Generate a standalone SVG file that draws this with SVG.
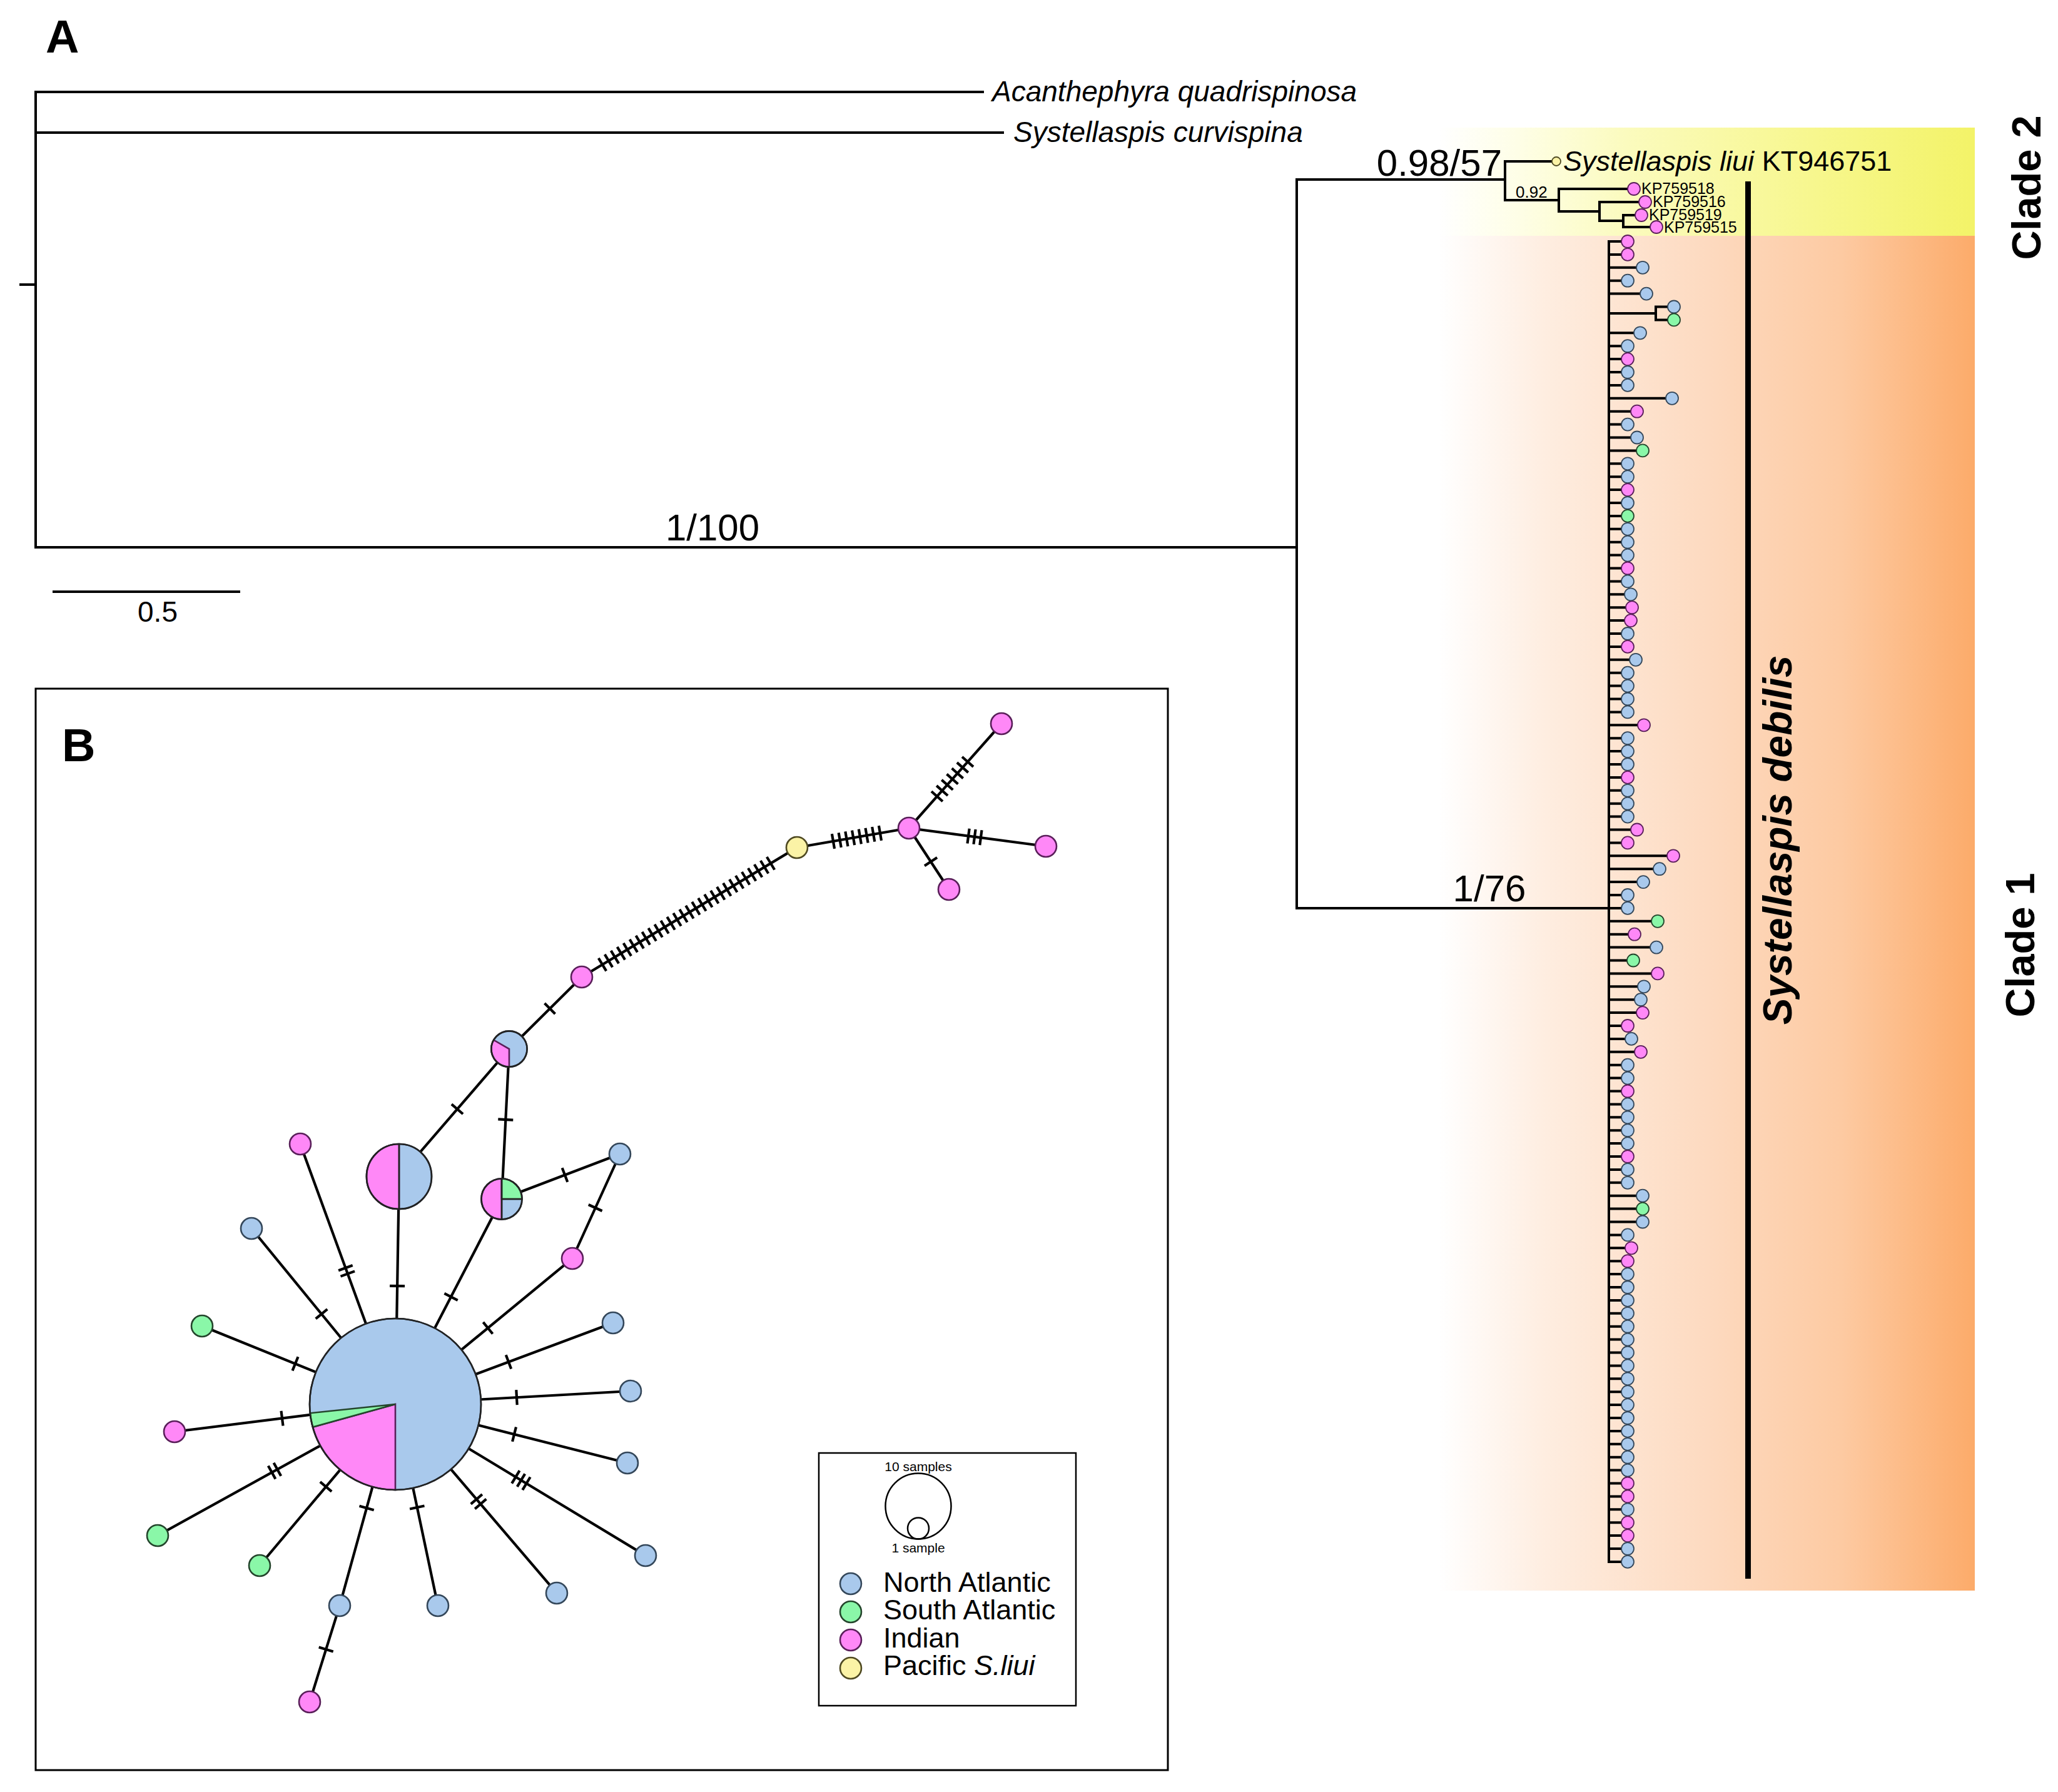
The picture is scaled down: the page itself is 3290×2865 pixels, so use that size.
<svg xmlns="http://www.w3.org/2000/svg" width="3290" height="2865" viewBox="0 0 3290 2865">
<defs>
<style>
text{font-family:"Liberation Sans",Arial,sans-serif;fill:#000}
.tree{stroke:#000;stroke-width:4;fill:none}
.edge{stroke:#000;stroke-width:4.2;fill:none}
.nb{fill:#A9C9EC;stroke:#34475a}
.np{fill:#FF88F7;stroke:#5a1f5a}
.ng{fill:#8AF7A8;stroke:#24452c}
.ny{fill:#FBF3A6;stroke:#4f4a22}
.tip circle{stroke-width:1.8}
.net circle,.net path{stroke-width:2.6}
.div{stroke:#222;stroke-width:2.6;fill:none}
.ol{fill:none;stroke:#222;stroke-width:2.6}
</style>
<linearGradient id="gy" gradientUnits="userSpaceOnUse" x1="2300" y1="0" x2="3157" y2="0">
<stop offset="0" stop-color="#FFFFFF"/>
<stop offset="0.15" stop-color="#FEFEE6"/>
<stop offset="0.35" stop-color="#FBFBBE"/>
<stop offset="0.7" stop-color="#F7F78E"/>
<stop offset="1" stop-color="#F3F368"/>
</linearGradient>
<linearGradient id="go" gradientUnits="userSpaceOnUse" x1="2300" y1="0" x2="3157" y2="0">
<stop offset="0" stop-color="#FFFFFF"/>
<stop offset="0.2" stop-color="#FEEDE0"/>
<stop offset="0.5" stop-color="#FDDAC0"/>
<stop offset="0.75" stop-color="#FDCAA2"/>
<stop offset="1" stop-color="#FCAB6A"/>
</linearGradient>
</defs>
<rect width="3290" height="2865" fill="#fff"/>

<!-- Panel A backgrounds -->
<g id="clade-bands">
<rect x="2300" y="204" width="857" height="173" fill="url(#gy)"/>
<rect x="2300" y="377" width="857" height="2166" fill="url(#go)"/>
</g>

<text x="73" y="84" font-size="74" font-weight="bold">A</text>

<!-- Tree connectors -->
<g id="tree-connectors" class="tree">
<path d="M31 455H57M57 145V877M57 147H1573M57 212H1605M57 875H2073M2073 285V1454M2073 287H2406M2073 1452H2572"/>
<path d="M2406 256V322M2406 258H2481M2406 320H2492M2492 300V340M2492 302H2602M2492 338H2557M2557 321V355M2557 323H2620M2557 353H2595M2595 342V365M2595 344H2614M2595 363H2638"/>
<path d="M2572 384V2499M2572 386H2592M2572 406.9H2592M2572 427.8H2616M2572 448.7H2592M2572 469.6H2622M2572 501H2647M2647 488.5V513.4M2647 490.5H2666M2647 511.4H2666M2572 532.3H2612M2572 553.2H2592M2572 574.1H2592M2572 595H2592M2572 615.9H2592M2572 636.8H2663M2572 657.7H2607M2572 678.6H2592M2572 699.5H2607M2572 720.4H2616M2572 741.3H2592M2572 762.2H2592M2572 783.1H2592M2572 804H2592M2572 824.9H2592M2572 845.8H2592M2572 866.7H2592M2572 887.6H2592M2572 908.5H2592M2572 929.4H2592M2572 950.3H2597M2572 971.2H2599M2572 992.1H2597M2572 1013H2592M2572 1033.9H2592M2572 1054.8H2605M2572 1075.7H2592M2572 1096.6H2592M2572 1117.5H2592M2572 1138.4H2592M2572 1159.3H2618M2572 1180.2H2592M2572 1201.1H2592M2572 1222H2592M2572 1242.9H2592M2572 1263.8H2592M2572 1284.7H2592M2572 1305.6H2592M2572 1326.5H2607M2572 1347.4H2592M2572 1368.3H2665M2572 1389.2H2643M2572 1410.1H2617M2572 1431H2592M2572 1451.9H2592M2572 1472.8H2640M2572 1493.7H2603M2572 1514.6H2638M2572 1535.5H2601M2572 1556.4H2640M2572 1577.3H2618M2572 1598.2H2613M2572 1619.1H2616M2572 1640H2592M2572 1660.9H2598M2572 1681.8H2613M2572 1702.7H2592M2572 1723.6H2592M2572 1744.5H2592M2572 1765.4H2592M2572 1786.3H2592M2572 1807.2H2592M2572 1828.1H2592M2572 1849H2592M2572 1869.9H2592M2572 1890.8H2592M2572 1911.7H2616M2572 1932.6H2616M2572 1953.5H2616M2572 1974.4H2592M2572 1995.3H2598M2572 2016.2H2592M2572 2037.1H2592M2572 2058H2592M2572 2078.9H2592M2572 2099.8H2592M2572 2120.7H2592M2572 2141.6H2592M2572 2162.5H2592M2572 2183.4H2592M2572 2204.3H2592M2572 2225.2H2592M2572 2246.1H2592M2572 2267H2592M2572 2287.9H2592M2572 2308.8H2592M2572 2329.7H2592M2572 2350.6H2592M2572 2371.5H2592M2572 2392.4H2592M2572 2413.3H2592M2572 2434.2H2592M2572 2455.1H2592M2572 2476H2592M2572 2496.9H2592"/>
<path d="M84 946H384"/>
</g>

<!-- Tree labels -->
<g id="tree-labels">
<text x="1586" y="162" font-size="46" font-style="italic">Acanthephyra quadrispinosa</text>
<text x="1620" y="227" font-size="46" font-style="italic">Systellaspis curvispina</text>
<text x="1139" y="864" font-size="60" text-anchor="middle">1/100</text>
<text x="2401" y="281" font-size="60" text-anchor="end">0.98/57</text>
<text x="2381" y="1441" font-size="60" text-anchor="middle">1/76</text>
<text x="252" y="994" font-size="46" text-anchor="middle">0.5</text>
<text x="2423" y="316" font-size="26">0.92</text>
<text x="2499" y="273" font-size="45"><tspan font-style="italic">Systellaspis liui</tspan> KT946751</text>
<text x="2624" y="310" font-size="25">KP759518</text>
<text x="2642" y="331" font-size="25">KP759516</text>
<text x="2636" y="352" font-size="25">KP759519</text>
<text x="2660" y="372" font-size="25">KP759515</text>
</g>

<!-- Clade 2 tips -->
<g class="tip">
<g id="liui"><circle class="ny" cx="2488" cy="258" r="7"/></g>
<g id="KP759518"><circle class="np" cx="2612" cy="302" r="10"/></g>
<g id="KP759516"><circle class="np" cx="2630" cy="323" r="10"/></g>
<g id="KP759519"><circle class="np" cx="2624" cy="344" r="10"/></g>
<g id="KP759515"><circle class="np" cx="2648" cy="363" r="10"/></g>
</g>

<!-- Clade 1 tips -->
<g class="tip">
<g id="t0"><circle class="np" cx="2602" cy="386" r="10"/></g>
<g id="t1"><circle class="np" cx="2602" cy="406.9" r="10"/></g>
<g id="t2"><circle class="nb" cx="2626" cy="427.8" r="10"/></g>
<g id="t3"><circle class="nb" cx="2602" cy="448.7" r="10"/></g>
<g id="t4"><circle class="nb" cx="2632" cy="469.6" r="10"/></g>
<g id="t5"><circle class="nb" cx="2676" cy="490.5" r="10"/></g>
<g id="t6"><circle class="ng" cx="2676" cy="511.4" r="10"/></g>
<g id="t7"><circle class="nb" cx="2622" cy="532.3" r="10"/></g>
<g id="t8"><circle class="nb" cx="2602" cy="553.2" r="10"/></g>
<g id="t9"><circle class="np" cx="2602" cy="574.1" r="10"/></g>
<g id="t10"><circle class="nb" cx="2602" cy="595" r="10"/></g>
<g id="t11"><circle class="nb" cx="2602" cy="615.9" r="10"/></g>
<g id="t12"><circle class="nb" cx="2673" cy="636.8" r="10"/></g>
<g id="t13"><circle class="np" cx="2617" cy="657.7" r="10"/></g>
<g id="t14"><circle class="nb" cx="2602" cy="678.6" r="10"/></g>
<g id="t15"><circle class="nb" cx="2617" cy="699.5" r="10"/></g>
<g id="t16"><circle class="ng" cx="2626" cy="720.4" r="10"/></g>
<g id="t17"><circle class="nb" cx="2602" cy="741.3" r="10"/></g>
<g id="t18"><circle class="nb" cx="2602" cy="762.2" r="10"/></g>
<g id="t19"><circle class="np" cx="2602" cy="783.1" r="10"/></g>
<g id="t20"><circle class="nb" cx="2602" cy="804" r="10"/></g>
<g id="t21"><circle class="ng" cx="2602" cy="824.9" r="10"/></g>
<g id="t22"><circle class="nb" cx="2602" cy="845.8" r="10"/></g>
<g id="t23"><circle class="nb" cx="2602" cy="866.7" r="10"/></g>
<g id="t24"><circle class="nb" cx="2602" cy="887.6" r="10"/></g>
<g id="t25"><circle class="np" cx="2602" cy="908.5" r="10"/></g>
<g id="t26"><circle class="nb" cx="2602" cy="929.4" r="10"/></g>
<g id="t27"><circle class="nb" cx="2607" cy="950.3" r="10"/></g>
<g id="t28"><circle class="np" cx="2609" cy="971.2" r="10"/></g>
<g id="t29"><circle class="np" cx="2607" cy="992.1" r="10"/></g>
<g id="t30"><circle class="nb" cx="2602" cy="1013" r="10"/></g>
<g id="t31"><circle class="np" cx="2602" cy="1033.9" r="10"/></g>
<g id="t32"><circle class="nb" cx="2615" cy="1054.8" r="10"/></g>
<g id="t33"><circle class="nb" cx="2602" cy="1075.7" r="10"/></g>
<g id="t34"><circle class="nb" cx="2602" cy="1096.6" r="10"/></g>
<g id="t35"><circle class="nb" cx="2602" cy="1117.5" r="10"/></g>
<g id="t36"><circle class="nb" cx="2602" cy="1138.4" r="10"/></g>
<g id="t37"><circle class="np" cx="2628" cy="1159.3" r="10"/></g>
<g id="t38"><circle class="nb" cx="2602" cy="1180.2" r="10"/></g>
<g id="t39"><circle class="nb" cx="2602" cy="1201.1" r="10"/></g>
<g id="t40"><circle class="nb" cx="2602" cy="1222" r="10"/></g>
<g id="t41"><circle class="np" cx="2602" cy="1242.9" r="10"/></g>
<g id="t42"><circle class="nb" cx="2602" cy="1263.8" r="10"/></g>
<g id="t43"><circle class="nb" cx="2602" cy="1284.7" r="10"/></g>
<g id="t44"><circle class="nb" cx="2602" cy="1305.6" r="10"/></g>
<g id="t45"><circle class="np" cx="2617" cy="1326.5" r="10"/></g>
<g id="t46"><circle class="np" cx="2602" cy="1347.4" r="10"/></g>
<g id="t47"><circle class="np" cx="2675" cy="1368.3" r="10"/></g>
<g id="t48"><circle class="nb" cx="2653" cy="1389.2" r="10"/></g>
<g id="t49"><circle class="nb" cx="2627" cy="1410.1" r="10"/></g>
<g id="t50"><circle class="nb" cx="2602" cy="1431" r="10"/></g>
<g id="t51"><circle class="nb" cx="2602" cy="1451.9" r="10"/></g>
<g id="t52"><circle class="ng" cx="2650" cy="1472.8" r="10"/></g>
<g id="t53"><circle class="np" cx="2613" cy="1493.7" r="10"/></g>
<g id="t54"><circle class="nb" cx="2648" cy="1514.6" r="10"/></g>
<g id="t55"><circle class="ng" cx="2611" cy="1535.5" r="10"/></g>
<g id="t56"><circle class="np" cx="2650" cy="1556.4" r="10"/></g>
<g id="t57"><circle class="nb" cx="2628" cy="1577.3" r="10"/></g>
<g id="t58"><circle class="nb" cx="2623" cy="1598.2" r="10"/></g>
<g id="t59"><circle class="np" cx="2626" cy="1619.1" r="10"/></g>
<g id="t60"><circle class="np" cx="2602" cy="1640" r="10"/></g>
<g id="t61"><circle class="nb" cx="2608" cy="1660.9" r="10"/></g>
<g id="t62"><circle class="np" cx="2623" cy="1681.8" r="10"/></g>
<g id="t63"><circle class="nb" cx="2602" cy="1702.7" r="10"/></g>
<g id="t64"><circle class="nb" cx="2602" cy="1723.6" r="10"/></g>
<g id="t65"><circle class="np" cx="2602" cy="1744.5" r="10"/></g>
<g id="t66"><circle class="nb" cx="2602" cy="1765.4" r="10"/></g>
<g id="t67"><circle class="nb" cx="2602" cy="1786.3" r="10"/></g>
<g id="t68"><circle class="nb" cx="2602" cy="1807.2" r="10"/></g>
<g id="t69"><circle class="nb" cx="2602" cy="1828.1" r="10"/></g>
<g id="t70"><circle class="np" cx="2602" cy="1849" r="10"/></g>
<g id="t71"><circle class="nb" cx="2602" cy="1869.9" r="10"/></g>
<g id="t72"><circle class="nb" cx="2602" cy="1890.8" r="10"/></g>
<g id="t73"><circle class="nb" cx="2626" cy="1911.7" r="10"/></g>
<g id="t74"><circle class="ng" cx="2626" cy="1932.6" r="10"/></g>
<g id="t75"><circle class="nb" cx="2626" cy="1953.5" r="10"/></g>
<g id="t76"><circle class="nb" cx="2602" cy="1974.4" r="10"/></g>
<g id="t77"><circle class="np" cx="2608" cy="1995.3" r="10"/></g>
<g id="t78"><circle class="np" cx="2602" cy="2016.2" r="10"/></g>
<g id="t79"><circle class="nb" cx="2602" cy="2037.1" r="10"/></g>
<g id="t80"><circle class="nb" cx="2602" cy="2058" r="10"/></g>
<g id="t81"><circle class="nb" cx="2602" cy="2078.9" r="10"/></g>
<g id="t82"><circle class="nb" cx="2602" cy="2099.8" r="10"/></g>
<g id="t83"><circle class="nb" cx="2602" cy="2120.7" r="10"/></g>
<g id="t84"><circle class="nb" cx="2602" cy="2141.6" r="10"/></g>
<g id="t85"><circle class="nb" cx="2602" cy="2162.5" r="10"/></g>
<g id="t86"><circle class="nb" cx="2602" cy="2183.4" r="10"/></g>
<g id="t87"><circle class="nb" cx="2602" cy="2204.3" r="10"/></g>
<g id="t88"><circle class="nb" cx="2602" cy="2225.2" r="10"/></g>
<g id="t89"><circle class="nb" cx="2602" cy="2246.1" r="10"/></g>
<g id="t90"><circle class="nb" cx="2602" cy="2267" r="10"/></g>
<g id="t91"><circle class="nb" cx="2602" cy="2287.9" r="10"/></g>
<g id="t92"><circle class="nb" cx="2602" cy="2308.8" r="10"/></g>
<g id="t93"><circle class="nb" cx="2602" cy="2329.7" r="10"/></g>
<g id="t94"><circle class="nb" cx="2602" cy="2350.6" r="10"/></g>
<g id="t95"><circle class="np" cx="2602" cy="2371.5" r="10"/></g>
<g id="t96"><circle class="np" cx="2602" cy="2392.4" r="10"/></g>
<g id="t97"><circle class="nb" cx="2602" cy="2413.3" r="10"/></g>
<g id="t98"><circle class="np" cx="2602" cy="2434.2" r="10"/></g>
<g id="t99"><circle class="np" cx="2602" cy="2455.1" r="10"/></g>
<g id="t100"><circle class="nb" cx="2602" cy="2476" r="10"/></g>
<g id="t101"><circle class="nb" cx="2602" cy="2496.9" r="10"/></g>
</g>

<g id="species-bar"><rect x="2790" y="290" width="9" height="2234" fill="#000"/></g>
<text transform="translate(2864 1343) rotate(-90)" font-size="64" font-weight="bold" font-style="italic" text-anchor="middle">Systellaspis debilis</text>
<text transform="translate(3262 300) rotate(-90)" font-size="65" font-weight="bold" text-anchor="middle">Clade 2</text>
<text transform="translate(3252 1511) rotate(-90)" font-size="65" font-weight="bold" text-anchor="middle">Clade 1</text>

<!-- Panel B -->
<rect x="57" y="1101" width="1810" height="1729" fill="none" stroke="#000" stroke-width="3"/>
<text x="99" y="1217" font-size="74" font-weight="bold">B</text>

<g id="network-connectors" class="edge">
<path d="M632 2245L480 1829M632 2245L638 1881M632 2245L402 1964M632 2245L323 2120M632 2245L279 2289M632 2245L252 2455M632 2245L415 2503M632 2245L543 2567M543 2567L495 2721M632 2245L700 2567M632 2245L890 2547M632 2245L1032 2487M632 2245L1003 2339M632 2245L1008 2224M632 2245L980 2115M632 2245L915 2012M915 2012L991 1845M802 1917L991 1845M632 2245L802 1917M802 1917L814 1677M638 1881L814 1677M814 1677L930 1562M930 1562L1274 1355M1274 1355L1453 1324M1453 1324L1601 1157M1453 1324L1672 1353M1453 1324L1517 1422"/>
<path d="M623.1 2055.8L647.1 2056.2M504.7 2108.4L523.3 2093.2M467.5 2191.4L476.5 2169.2M452.5 2279.5L449.5 2255.7M530.2 2384.6L511.8 2369.2M597.7 2414.2L574.5 2407.8M532.7 2640.6L509.7 2633.4M678.5 2407.5L655.1 2412.5M825 2281.5L819.1 2304.7M825.3 2222.2L826.7 2246.2M808.8 2166.2L817.2 2188.6M772.4 2113.9L787.6 2132.5M940.8 1926L962.6 1936M898.7 1867.3L907.3 1889.7M710.4 2067.8L731.7 2078.8M796.3 1789.4L820.3 1790.6M721.9 1765.4L740.1 1781M870.6 1604.1L887.5 1621.1M1498.1 1371L1478 1384.2"/>
<path d="M544.5 2040.6L567.1 2032.4M541.1 2031.2L563.7 2023M449.2 2359.7L437.6 2338.7M440.4 2364.6L428.8 2343.6M770.9 2389.1L752.7 2404.7M777.4 2396.7L759.2 2412.3M830.6 2351.1L818.2 2371.7M839.2 2356.3L826.8 2376.9M847.7 2361.5L835.3 2382.1"/>
<path d="M956.81 1531.87l12.38 20.56m-2.415-26.556l12.38 20.56m-2.415-26.556l12.38 20.56m-2.415-26.556l12.38 20.56m-2.415-26.556l12.38 20.56m-2.415-26.556l12.38 20.56m-2.415-26.556l12.38 20.56m-2.415-26.556l12.38 20.56m-2.415-26.556l12.38 20.56m-2.415-26.556l12.38 20.56m-2.415-26.556l12.38 20.56m-2.415-26.556l12.38 20.56m-2.415-26.556l12.38 20.56m-2.415-26.556l12.38 20.56m-2.415-26.556l12.38 20.56m-2.415-26.556l12.38 20.56m-2.415-26.556l12.38 20.56m-2.415-26.556l12.38 20.56m-2.415-26.556l12.38 20.56m-2.415-26.556l12.38 20.56m-2.415-26.556l12.38 20.56m-2.415-26.556l12.38 20.56m-2.415-26.556l12.38 20.56m-2.415-26.556l12.38 20.56m-2.415-26.556l12.38 20.56m-2.415-26.556l12.38 20.56m-2.415-26.556l12.38 20.56m-2.415-26.556l12.38 20.56"/>
<path d="M1329.95 1333.13l4.1 23.64m6.61-25.495l4.1 23.64m6.61-25.495l4.1 23.64m6.61-25.495l4.1 23.64m6.61-25.495l4.1 23.64m6.61-25.495l4.1 23.64m6.61-25.495l4.1 23.64m6.61-25.495l4.1 23.64"/>
<path d="M1489.02 1265.29l17.96 15.92m-9.79-25.14l17.96 15.92m-9.79-25.14l17.96 15.92m-9.79-25.14l17.96 15.92m-9.79-25.14l17.96 15.92m-9.79-25.14l17.96 15.92m-9.79-25.14l17.96 15.92"/>
<path d="M1549.68 1324.7l-3.16 23.8m13.07-22.49l-3.16 23.8m13.07-22.49l-3.16 23.8"/>
</g>

<g class="net">
<g id="hap-central">
<circle class="nb" cx="632" cy="2245" r="137"/>
<path class="np" d="M632 2245L632 2382A137 137 0 0 1 500 2281.6Z"/>
<path class="ng" d="M632 2245L500 2281.6A137 137 0 0 1 495.8 2259.3Z"/>
<circle class="ol" cx="632" cy="2245" r="137"/>
</g>
<g id="hap-M">
<circle class="nb" cx="638" cy="1881" r="52"/>
<path class="np" d="M638 1829A52 52 0 0 0 638 1933Z"/>
<path class="div" d="M638 1829V1933"/>
<circle class="ol" cx="638" cy="1881" r="52"/>
</g>
<g id="hap-S">
<circle class="nb" cx="802" cy="1917" r="32.5"/>
<path class="np" d="M802 1884.5A32.5 32.5 0 0 0 802 1949.5Z"/>
<path class="ng" d="M802 1917L802 1884.5A32.5 32.5 0 0 1 834.5 1917Z"/>
<path class="div" d="M802 1884.5V1949.5M802 1917H834.5"/>
<circle class="ol" cx="802" cy="1917" r="32.5"/>
</g>
<g id="hap-T">
<circle class="nb" cx="814" cy="1677" r="28.6"/>
<path class="np" d="M814 1677L814 1705.6A28.6 28.6 0 0 1 789.2 1662.7Z"/>
<circle class="ol" cx="814" cy="1677" r="28.6"/>
</g>
<g id="hap-Q"><circle class="np" cx="930" cy="1562" r="17"/></g>
<g id="hap-Y"><circle class="ny" cx="1274" cy="1355" r="17"/></g>
<g id="hap-H"><circle class="np" cx="1453" cy="1324" r="17"/></g>
<g id="hap-H1"><circle class="np" cx="1601" cy="1157" r="17"/></g>
<g id="hap-H2"><circle class="np" cx="1672" cy="1353" r="17"/></g>
<g id="hap-H3"><circle class="np" cx="1517" cy="1422" r="17"/></g>
<g id="hap-1"><circle class="nb" cx="991" cy="1845" r="17"/></g>
<g id="hap-2"><circle class="np" cx="915" cy="2012" r="17"/></g>
<g id="hap-3"><circle class="nb" cx="980" cy="2115" r="17"/></g>
<g id="hap-4"><circle class="nb" cx="1008" cy="2224" r="17"/></g>
<g id="hap-5"><circle class="nb" cx="1003" cy="2339" r="17"/></g>
<g id="hap-6"><circle class="nb" cx="1032" cy="2487" r="17"/></g>
<g id="hap-7"><circle class="nb" cx="890" cy="2547" r="17"/></g>
<g id="hap-8"><circle class="nb" cx="700" cy="2567" r="17"/></g>
<g id="hap-9"><circle class="nb" cx="543" cy="2567" r="17"/></g>
<g id="hap-10"><circle class="np" cx="495" cy="2721" r="17"/></g>
<g id="hap-11"><circle class="ng" cx="415" cy="2503" r="17"/></g>
<g id="hap-12"><circle class="ng" cx="252" cy="2455" r="17"/></g>
<g id="hap-13"><circle class="np" cx="279" cy="2289" r="17"/></g>
<g id="hap-14"><circle class="ng" cx="323" cy="2120" r="17"/></g>
<g id="hap-15"><circle class="nb" cx="402" cy="1964" r="17"/></g>
<g id="hap-16"><circle class="np" cx="480" cy="1829" r="17"/></g>
</g>

<g id="legend">
<rect x="1309" y="2323" width="411" height="404" fill="none" stroke="#000" stroke-width="2.5"/>
<text x="1468" y="2352" font-size="21" text-anchor="middle">10 samples</text>
<circle cx="1468" cy="2408" r="52.5" fill="none" stroke="#000" stroke-width="2.5"/>
<circle cx="1468" cy="2443.5" r="17" fill="none" stroke="#000" stroke-width="2.5"/>
<text x="1468" y="2482" font-size="21" text-anchor="middle">1 sample</text>
<g class="net">
<circle class="nb" cx="1360" cy="2532" r="17"/>
<circle class="ng" cx="1360" cy="2577" r="17"/>
<circle class="np" cx="1360" cy="2622" r="17"/>
<circle class="ny" cx="1360" cy="2667" r="17"/>
</g>
<text x="1412" y="2545" font-size="45">North Atlantic</text>
<text x="1412" y="2589" font-size="45">South Atlantic</text>
<text x="1412" y="2634" font-size="45">Indian</text>
<text x="1412" y="2678" font-size="45">Pacific <tspan font-style="italic">S.liui</tspan></text>
</g>
</svg>
